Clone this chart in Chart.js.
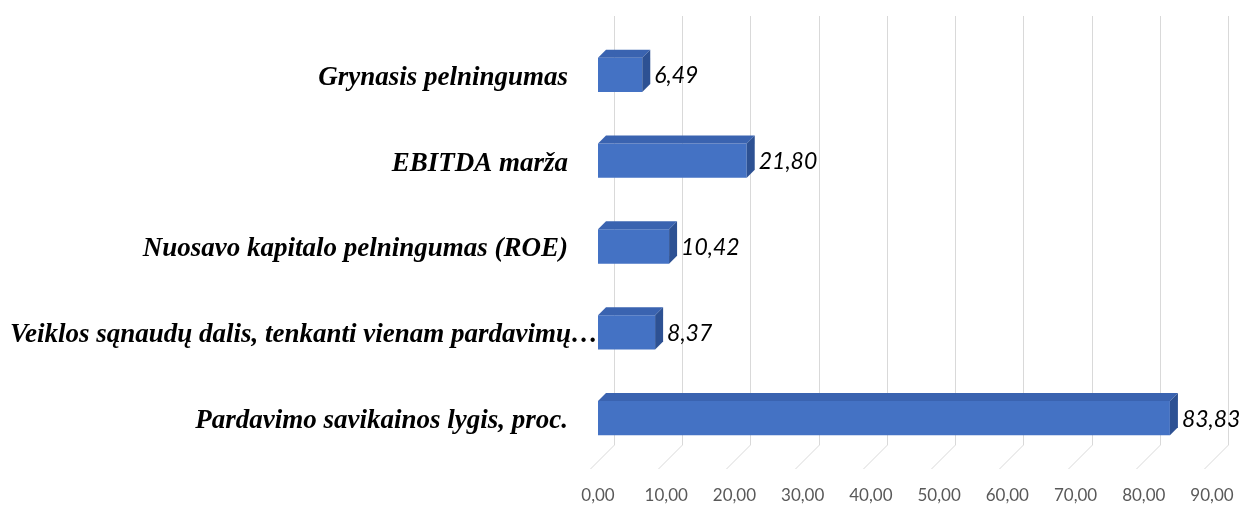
<!DOCTYPE html>
<html>
<head>
<meta charset="utf-8">
<script src="https://cdn.jsdelivr.net/npm/chart.js@4/dist/chart.umd.min.js"></script>
<style>
  html, body { margin: 0; padding: 0; background: #fff; }
  #wrap { width: 1240px; height: 514px; position: relative; }
</style>
</head>
<body>
<div id="wrap"><canvas id="chart"></canvas></div>
<script>
const categories = [
  'Grynasis pelningumas',
  'EBITDA marža',
  'Nuosavo kapitalo pelningumas (ROE)',
  'Veiklos sąnaudų dalis, tenkanti vienam pardavimų…',
  'Pardavimo savikainos lygis, proc.'
];
const values = [6.49, 21.80, 10.42, 8.37, 83.83];
const xTicks = [0, 10, 20, 30, 40, 50, 60, 70, 80, 90];

const fmt = v => v.toFixed(2).replace('.', ',');

// depth of the bar top/side faces and of the back wall
const BAR_DEPTH = 8;
const WALL_DEPTH = 16;

const threeD = {
  id: 'threeD',
  beforeDatasetsDraw(chart) {
    const { ctx, chartArea, scales } = chart;
    const backY = chartArea.bottom - WALL_DEPTH;
    const frontY = chartArea.bottom + 8;
    ctx.save();
    ctx.strokeStyle = '#d9d9d9';
    ctx.lineWidth = 1;
    xTicks.forEach(v => {
      const px = Math.round(scales.x.getPixelForValue(v)) + 0.5;
      ctx.beginPath();
      ctx.moveTo(px + WALL_DEPTH, 16);
      ctx.lineTo(px + WALL_DEPTH, backY);
      ctx.lineTo(px - 8, frontY);
      ctx.stroke();
    });
    ctx.restore();
  },
  afterDatasetsDraw(chart) {
    const { ctx, chartArea } = chart;
    const meta = chart.getDatasetMeta(0);
    const d = BAR_DEPTH;
    ctx.save();
    meta.data.forEach((bar, i) => {
      const top = bar.y - bar.height / 2;
      const bot = bar.y + bar.height / 2;
      // top face
      ctx.fillStyle = '#3a63b0';
      ctx.beginPath();
      ctx.moveTo(bar.base, top);
      ctx.lineTo(bar.x, top);
      ctx.lineTo(bar.x + d, top - d);
      ctx.lineTo(bar.base + d, top - d);
      ctx.closePath();
      ctx.fill();
      // side face
      ctx.fillStyle = '#2d5193';
      ctx.beginPath();
      ctx.moveTo(bar.x, top);
      ctx.lineTo(bar.x + d, top - d);
      ctx.lineTo(bar.x + d, bot - d);
      ctx.lineTo(bar.x, bot);
      ctx.closePath();
      ctx.fill();
      // value label
      ctx.fillStyle = '#000';
      ctx.font = 'italic 23px Lato';
      ctx.textAlign = 'left';
      ctx.textBaseline = 'middle';
      ctx.fillText(fmt(values[i]), bar.x + d + 4, bar.y + 1);
      // category label
      ctx.font = 'italic bold 27px "Liberation Serif"';
      ctx.textAlign = 'right';
      const label = categories[i];
      let lx = chartArea.left - 30;
      const w = ctx.measureText(label).width;
      if (lx - w < 10) lx = 10 + w;
      ctx.fillText(label, lx, bar.y + 3);
    });
    ctx.restore();
  }
};

new Chart(document.getElementById('chart'), {
  type: 'bar',
  data: {
    labels: categories,
    datasets: [{
      data: values,
      backgroundColor: '#4472c4',
      borderWidth: 0,
      categoryPercentage: 0.8,
      barPercentage: 0.5
    }]
  },
  options: {
    indexAxis: 'y',
    responsive: true,
    maintainAspectRatio: false,
    animation: false,
    layout: { padding: { left: 590, right: 28, top: 32, bottom: 0 } },
    plugins: { legend: { display: false }, tooltip: { enabled: false } },
    scales: {
      x: {
        min: 0,
        max: 90,
        afterBuildTicks: axis => { axis.ticks = xTicks.map(v => ({ value: v })); },
        afterFit: axis => {
          axis.height = 53;
          axis.paddingLeft = 0;
          axis.paddingRight = 0;
        },
        grid: { display: false },
        border: { display: false },
        ticks: {
          padding: 16,
          color: '#595959',
          font: { family: 'Lato', size: 17 },
          callback: v => fmt(v)
        }
      },
      y: {
        grid: { display: false },
        border: { display: false },
        ticks: { display: false }
      }
    }
  },
  plugins: [threeD]
});
</script>
</body>
</html>
